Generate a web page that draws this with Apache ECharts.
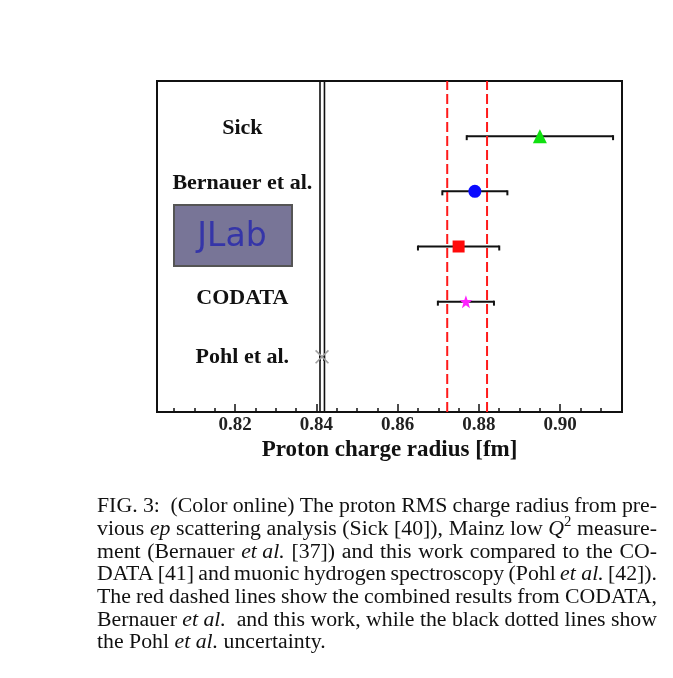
<!DOCTYPE html>
<html>
<head>
<meta charset="utf-8">
<title>Proton charge radius</title>
<script src="https://cdn.jsdelivr.net/npm/echarts@6/dist/echarts.min.js"></script>
<style>
  html, body { margin: 0; padding: 0; background: #fff; }
  #chart { width: 673px; height: 678px; }
</style>
</head>
<body>
<div id="chart"></div>
<script>
// Measurements, top row first (row index: 5 = Sick ... 1 = Pohl)
const experiments = ['Sick', 'Bernauer et al.', 'JLab', 'CODATA', 'Pohl et al.'];
const rows        = [5, 4, 3, 2, 1];
const radius      = [0.895, 0.879, 0.875, 0.8768, 0.8414];   // fm
const radiusErr   = [0.018, 0.008, 0.010, 0.0069, 0.0005];   // fm

// Combined CODATA + Bernauer + this work band (red dashed)
const combinedBand = [0.8722, 0.8820];
// Pohl et al. uncertainty band (black lines)
const pohlBand = [0.8409, 0.8420];

// Axis ticks
const majorTicks = [0.82, 0.84, 0.86, 0.88, 0.90];
const minorTicks = [0.805, 0.81, 0.815, 0.825, 0.83, 0.835, 0.845, 0.85, 0.855,
                    0.865, 0.87, 0.875, 0.885, 0.89, 0.895, 0.905, 0.91];
const xMin = 0.8008, xMax = 0.9152;

// Marker look for each experiment
const markerSymbols = [
  'triangle',
  'circle',
  'rect',
  'path://M0,-10 L2.35,-3.24 L9.51,-3.09 L3.80,1.24 L5.88,8.09 L0,4 L-5.88,8.09 L-3.80,1.24 L-9.51,-3.09 L-2.35,-3.24 Z',
  'path://M-5,-6 L0,-1 L5,-6 L6,-5 L1,0 L6,5 L5,6 L0,1 L-5,6 L-6,5 L-1,0 L-6,-5 Z'
];
const markerColors = ['#10e010', '#0a0aff', '#ff0a0a', '#ff20ff', '#a0a0a0'];
const markerSizes  = [14, 13, 12, 13, 14];
// row names sit slightly above their row (pixels)
const nameLift = [8, 8, 0, 3, 0];

const SERIF = '"Liberation Serif", "Times New Roman", serif';

const chart = echarts.init(document.getElementById('chart'), null, { renderer: 'canvas' });

// error bars: horizontal line with short end caps
const errData = rows.map((r, i) => [radius[i] - radiusErr[i], radius[i] + radiusErr[i], r]);

function renderErrBar(params, api) {
  const a = api.coord([api.value(0), api.value(2)]);
  const b = api.coord([api.value(1), api.value(2)]);
  const st = { stroke: '#111', lineWidth: 2, fill: null };
  return {
    type: 'group',
    children: [
      { type: 'line', shape: { x1: a[0], y1: a[1], x2: b[0], y2: b[1] }, style: st },
      { type: 'line', shape: { x1: a[0], y1: a[1] - 1, x2: a[0], y2: a[1] + 4 }, style: st },
      { type: 'line', shape: { x1: b[0], y1: b[1] - 1, x2: b[0], y2: b[1] + 4 }, style: st }
    ]
  };
}

const markerSeries = experiments.map((name, i) => ({
  type: 'scatter',
  name: name,
  z: 5,
  symbol: markerSymbols[i],
  symbolSize: markerSizes[i],
  itemStyle: { color: markerColors[i], opacity: 1 },
  data: [[radius[i], rows[i]]],
  silent: true
}));

const vLine = (x, color, type, width, z) => ({
  type: 'line',
  z: z,
  symbol: 'none',
  silent: true,
  lineStyle: { color: color, type: type, width: width },
  data: [[x, 0], [x, 6]]
});

// row names (except JLab which has its own badge)
const nameData = experiments.map((n, i) => ({
  value: [0.8218, rows[i]],
  label: { show: n !== 'JLab', formatter: n, offset: [0, -nameLift[i]] }
}));

// caption (markup: _italic_, ^superscript, ~ is a non-stretching space)
const captionLines = [
  'FIG. 3:  (Color online) The proton RMS charge radius from pre-',
  'vious _ep_ scattering analysis (Sick [40]), Mainz low _Q_^2 measure-',
  'ment (Bernauer _et~al._ [37]) and this work compared to the CO-',
  'DATA [41] and muonic hydrogen spectroscopy (Pohl _et~al._ [42]).',
  'The red dashed lines show the combined results from CODATA,',
  'Bernauer _et~al._  and this work, while the black dotted lines show',
  'the Pohl _et~al._ uncertainty.'
];

const capLeft = 97, capRight = 657, capTop = 507, capStep = 22.7, capSize = 20, capScaleX = 1.09;
const measureCtx = document.createElement('canvas').getContext('2d');
function fontOf(kind) {
  if (kind === 'sup') return (capSize * 0.68).toFixed(1) + 'px ' + SERIF;
  return (kind === 'i' ? 'italic ' : '') + capSize + 'px ' + SERIF;
}
function parseWord(w) {
  const segs = [];
  const re = /_([^_]+)_|\^(\S)|([^_^]+)/g;
  let m;
  while ((m = re.exec(w)) !== null) {
    if (m[1] !== undefined) segs.push([m[1].replace(/~/g, ' '), 'i']);
    else if (m[2] !== undefined) segs.push([m[2], 'sup']);
    else segs.push([m[3].replace(/~/g, ' '), 'n']);
  }
  return segs;
}
function segWidth(s) { measureCtx.font = fontOf(s[1]); return measureCtx.measureText(s[0]).width * capScaleX; }

const captionGraphics = [];
captionLines.forEach((line, li) => {
  const words = line.split(' ').map(parseWord);
  const widths = words.map(ws => ws.reduce((acc, s) => acc + segWidth(s), 0));
  const total = widths.reduce((a, b) => a + b, 0);
  measureCtx.font = fontOf('n');
  const last = li === captionLines.length - 1;
  const gap = last ? measureCtx.measureText(' ').width * capScaleX : (capRight - capLeft - total) / (words.length - 1);
  let x = capLeft;
  const y = capTop + li * capStep;
  words.forEach((ws) => {
    ws.forEach(s => {
      captionGraphics.push({
        type: 'text', x: x, y: s[1] === 'sup' ? y - 7 : y, scaleX: capScaleX, silent: true,
        style: { text: s[0], font: fontOf(s[1]), fill: '#111', verticalAlign: 'middle', align: 'left' }
      });
      x += segWidth(s);
    });
    x += gap;
  });
});

const option = {
  animation: false,
  backgroundColor: '#fff',
  grid: { left: 157, right: 51, top: 81, bottom: 266, show: true, borderColor: '#111', borderWidth: 2, backgroundColor: 'transparent' },
  xAxis: [
    {
      type: 'value', min: xMin, max: xMax,
      axisLine: { show: false },
      splitLine: { show: false },
      axisTick: { show: true, inside: true, length: 8, customValues: majorTicks, lineStyle: { color: '#111', width: 1.5 } },
      axisLabel: {
        show: true, customValues: majorTicks, margin: 4,
        formatter: v => v.toFixed(2),
        fontFamily: SERIF, fontWeight: 'bold', fontSize: 19, color: '#222'
      },
      name: 'Proton charge radius [fm]', nameLocation: 'middle', nameGap: 27,
      nameTextStyle: { fontFamily: SERIF, fontWeight: 'bold', fontSize: 23, color: '#111' }
    },
    {
      type: 'value', min: xMin, max: xMax, position: 'bottom',
      axisLine: { show: false }, splitLine: { show: false },
      axisTick: { show: true, inside: true, length: 4, customValues: minorTicks, lineStyle: { color: '#111', width: 1.5 } },
      axisLabel: { show: false }
    }
  ],
  yAxis: { type: 'value', min: 0, max: 6, show: false },
  series: [
    vLine(pohlBand[0], '#111', 'solid', 1.6, 2),
    vLine(pohlBand[1], '#111', 'solid', 1.6, 2),
    {
      type: 'custom', z: 3, silent: true,
      renderItem: renderErrBar,
      encode: { x: [0, 1], y: 2 },
      data: errData
    },
    vLine(combinedBand[0], '#ff1a1a', [10, 4], 2, 4),
    vLine(combinedBand[1], '#ff1a1a', [10, 4], 2, 4),
    ...markerSeries,
    {
      type: 'scatter', z: 6, silent: true, symbolSize: 0,
      itemStyle: { opacity: 1 },
      label: {
        show: true, position: 'inside',
        fontFamily: SERIF, fontWeight: 'bold', fontSize: 22, color: '#111'
      },
      data: nameData
    }
  ],
  graphic: [
    {
      type: 'group', silent: true,
      children: [
        { type: 'rect', shape: { x: 174, y: 205, width: 118, height: 61 },
          style: { fill: '#787597', stroke: '#555', lineWidth: 2 } },
        { type: 'text', x: 232, y: 237,
          style: { text: 'JLab', font: '33px "DejaVu Sans", sans-serif', fill: '#3535a8', align: 'center', verticalAlign: 'middle' } }
      ]
    },
    ...captionGraphics
  ]
};

chart.setOption(option);
</script>
</body>
</html>
